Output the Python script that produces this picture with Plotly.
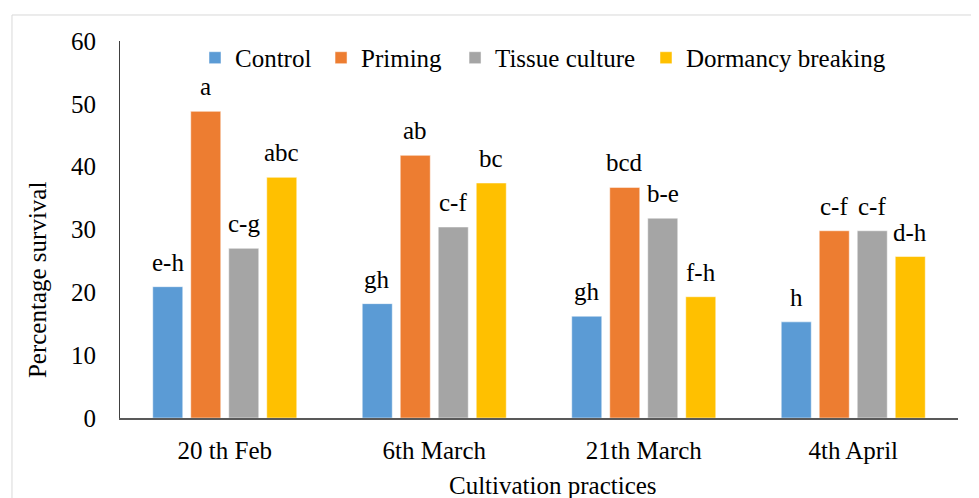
import plotly.graph_objects as go

categories = ["20 th Feb", "6th March", "21th March", "4th April"]
series_names = ["Control", "Priming", "Tissue culture", "Dormancy breaking"]
control = [20.9, 18.2, 16.2, 15.3]
priming = [48.8, 41.8, 36.7, 29.8]
tissue = [27.0, 30.4, 31.8, 29.8]
dormancy = [38.3, 37.4, 19.3, 25.7]
control_labels = ["e-h", "gh", "gh", "h"]
priming_labels = ["a", "ab", "bcd", "c-f"]
tissue_labels = ["c-g", "c-f", "b-e", "c-f"]
dormancy_labels = ["abc", "bc", "f-h", "d-h"]
colors = ["#5B9BD5", "#ED7D31", "#A5A5A5", "#FFC000"]

values = [control, priming, tissue, dormancy]
labels = [control_labels, priming_labels, tissue_labels, dormancy_labels]

FONT = "Liberation Serif"
FS = 25
BARGAP = 0.2745
SLOT = (1 - BARGAP) / 4
legend_ids = ["legend", "legend2", "legend3", "legend4"]
legend_x = [0.0895, 0.2399, 0.3998, 0.6277]

fig = go.Figure()
for name, vals, col, lid in zip(series_names, values, colors, legend_ids):
    fig.add_trace(go.Bar(
        x=categories, y=vals, name=name, legend=lid,
        marker=dict(color=col, line=dict(color="white", width=0.5)),
    ))

annotations = []
for i, (vals, labs) in enumerate(zip(values, labels)):
    for ci, (v, lab) in enumerate(zip(vals, labs)):
        annotations.append(dict(
            x=ci + (i - 1.5) * SLOT, y=v, xref="x", yref="y",
            text=lab, showarrow=False, yanchor="bottom", xanchor="center",
            yshift=9, font=dict(family=FONT, size=FS, color="#000000"),
        ))

annotations.append(dict(
    x=-0.099, y=0.366, xref="paper", yref="paper", text="Percentage survival",
    textangle=-90, showarrow=False, xanchor="center", yanchor="middle",
    font=dict(family=FONT, size=FS, color="#000000"),
))
annotations.append(dict(
    x=0.517, y=-0.178, xref="paper", yref="paper", text="Cultivation practices",
    showarrow=False, xanchor="center", yanchor="middle",
    font=dict(family=FONT, size=FS, color="#000000"),
))

shapes = [
    dict(type="line", xref="paper", yref="paper", x0=-0.1289, x1=1.04,
         y0=1.069, y1=1.069, line=dict(color="#d9d9d9", width=1)),
    dict(type="line", xref="paper", yref="paper", x0=-0.1289, x1=-0.1289,
         y0=1.069, y1=-0.25, line=dict(color="#d9d9d9", width=1)),
]

legend_common = dict(orientation="h", y=0.955, xanchor="left", yanchor="middle",
                     font=dict(family=FONT, size=FS, color="#000000"),
                     bgcolor="rgba(0,0,0,0)", itemclick=False, itemdoubleclick=False)

layout_legends = {lid: dict(legend_common, x=lx) for lid, lx in zip(legend_ids, legend_x)}

fig.update_layout(
    width=979, height=498,
    margin=dict(l=112, r=29, t=33, b=88),
    paper_bgcolor="white", plot_bgcolor="white",
    barmode="group", bargap=BARGAP, bargroupgap=0.21,
    font=dict(family=FONT, size=FS, color="#000000"),
    showlegend=True,
    annotations=annotations,
    shapes=shapes,
    **layout_legends,
)
fig.update_xaxes(showline=True, linecolor="#595959", linewidth=1.5, showgrid=False,
                 ticks="", ticklabelstandoff=9, range=[-0.5, 3.5],
                 tickfont=dict(family=FONT, size=FS, color="#000000"))
fig.update_yaxes(showline=True, linecolor="#404040", linewidth=1, showgrid=False,
                 range=[0, 60], dtick=10, ticks="", ticklabelstandoff=18, zeroline=False,
                 tickfont=dict(family=FONT, size=FS, color="#000000"))

fig.write_html("out.html")
